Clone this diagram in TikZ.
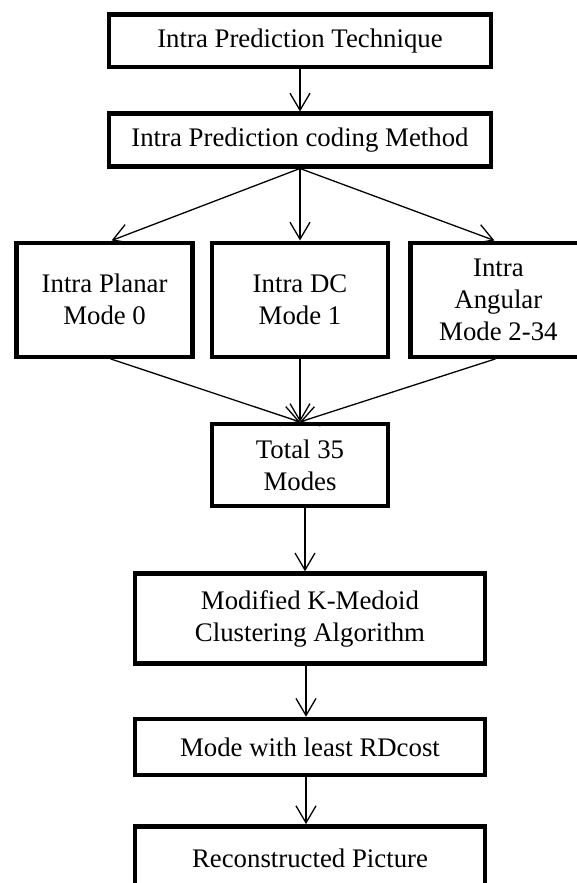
\documentclass[tikz,border=0pt]{standalone}
\usepackage{fontspec}
\setmainfont{Liberation Serif}
\usetikzlibrary{positioning, arrows.meta}

\begin{document}
\begin{tikzpicture}[
    x=0.5pt, y=-0.5pt,
    >={Straight Barb[length=8.5pt, width=10pt]},
    % Styles for nodes
    box/.style={draw=black, fill=white, rectangle, line width=2.2pt, align=center, inner sep=0pt, font=\fontsize{13.4}{16}\selectfont, minimum width=191pt, minimum height=26.3pt},
    modebox/.style={box, minimum width=88pt, minimum height=57pt},
    arr/.style={->, line width=0.65pt}
]
    \useasboundingbox (0,0) rectangle (577,883);
    \clip (0,0) rectangle (577,883);

    % Main column
    \node (tech) [box] at (300,41) {Intra Prediction Technique};
    \node (method) [box, below=21pt of tech] {Intra Prediction coding Method};

    % The three mode groups
    \node (dc) [modebox, below=36pt of method] {Intra DC\\Mode 1};
    \node (planar) [modebox, left=7.5pt of dc] {Intra Planar\\Mode 0};
    \node (angular) [modebox, right=9pt of dc] {Intra\\Angular\\Mode 2-34};

    \node (total) [modebox, minimum height=41pt, below=31.5pt of dc] {Total 35\\Modes};
    \node (kmedoid) [box, minimum width=175pt, minimum height=45pt, below=31.5pt of total, xshift=5pt] {Modified K-Medoid\\Clustering Algorithm};
    \node (rdcost) [box, minimum width=175pt, minimum height=28pt, below=25.5pt of kmedoid] {Mode with least RDcost};
    \node (recon) [box, minimum width=175pt, minimum height=32pt, below=23.5pt of rdcost] {Reconstructed Picture};

    % Arrows
    \draw [arr] (tech) -- (method);
    \draw [arr] (method.south) -- ([xshift=3.5pt]planar.north);
    \draw [arr] (method.south) -- (dc.north);
    \draw [arr] (method.south) -- ([xshift=-2pt]angular.north);
    \draw [arr] ([xshift=3pt]planar.south) -- (total.north);
    \draw [arr] (dc) -- (total);
    \draw [arr] ([xshift=-1.5pt]angular.south) -- (total.north);
    \draw [arr] ([xshift=2.5pt]total.south) -- ([xshift=2.5pt]total.south |- kmedoid.north);
    \draw [arr] ([xshift=-2pt]kmedoid.south) -- ([xshift=-2pt]rdcost.north);
    \draw [arr] ([xshift=-2pt]rdcost.south) -- ([xshift=-2pt]recon.north);

\end{tikzpicture}
\end{document}
